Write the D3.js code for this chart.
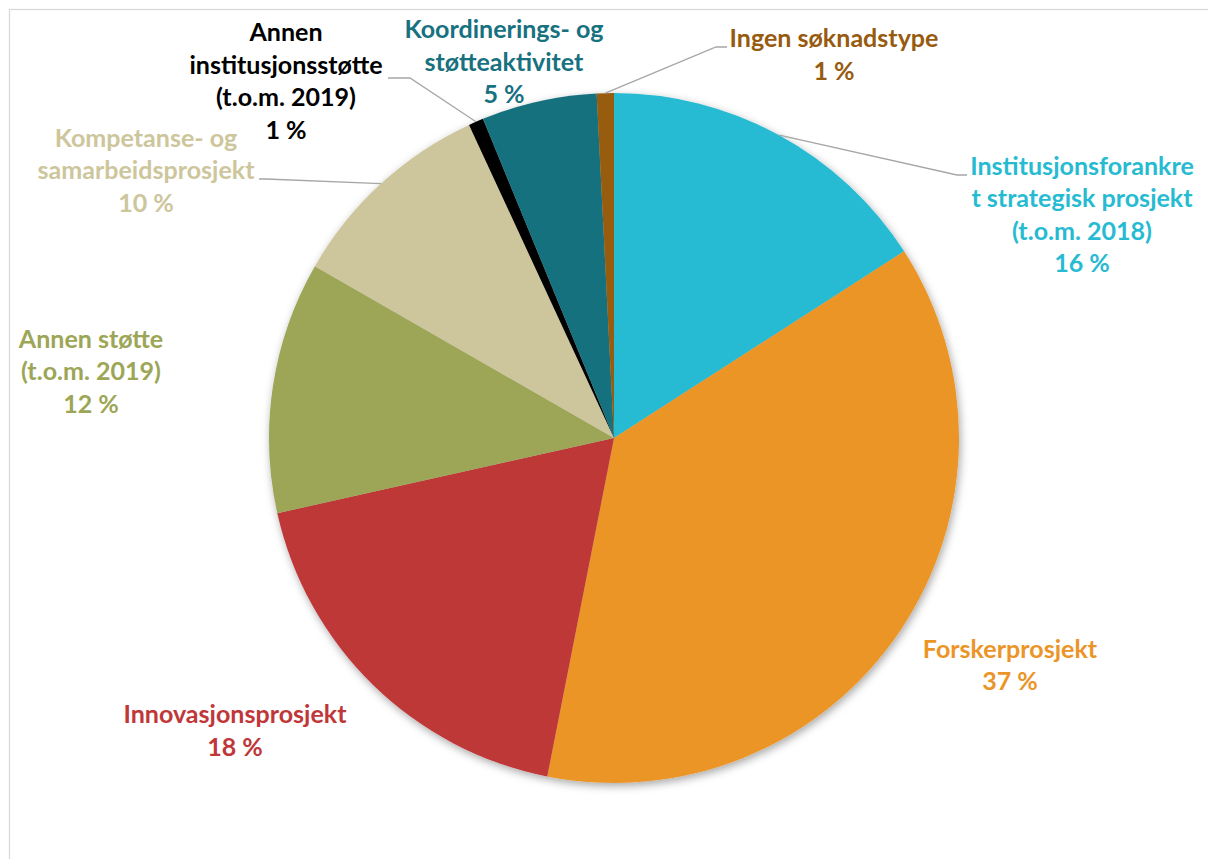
<!DOCTYPE html>
<html><head><meta charset="utf-8">
<script src="https://cdn.jsdelivr.net/npm/d3@7"></script>
<style>html,body{margin:0;padding:0;background:#fff;}svg{display:block;}</style>
</head><body>
<script>
// ---- data ----
const categories = [
  "Institusjonsforankret strategisk prosjekt (t.o.m. 2018)",
  "Forskerprosjekt",
  "Innovasjonsprosjekt",
  "Annen støtte (t.o.m. 2019)",
  "Kompetanse- og samarbeidsprosjekt",
  "Annen institusjonsstøtte (t.o.m. 2019)",
  "Koordinerings- og støtteaktivitet",
  "Ingen søknadstype"
];
const values = [15.9, 37.2, 18.4, 11.8, 9.8, 0.7, 5.4, 0.8];
const labelLines = [
  ["Institusjonsforankre", "t strategisk prosjekt", "(t.o.m. 2018)"],
  ["Forskerprosjekt"],
  ["Innovasjonsprosjekt"],
  ["Annen støtte", "(t.o.m. 2019)"],
  ["Kompetanse- og", "samarbeidsprosjekt"],
  ["Annen", "institusjonsstøtte", "(t.o.m. 2019)"],
  ["Koordinerings- og", "støtteaktivitet"],
  ["Ingen søknadstype"]
];
const colors = ["#27BBD2", "#EB9528", "#BF3739", "#9CA656", "#CDC69C", "#000000", "#18717F", "#975B0F"];
const textColors = ["#27BBD2", "#EB9528", "#BF3739", "#9CA656", "#CDC69C", "#000000", "#18717F", "#975B0F"];

// ---- layout ----
const W = 1208, H = 859;
const cx = 614, cy = 438, R = 345;
const lineH = 32.5;
// label anchor: center x, first baseline, leader path points (label side), ordered from label outward
const labelLayout = [
  {x: 1082, y: 174.5, leader: [[967, 175], [957, 175]]},
  {x: 1010, y: 657.5, leader: null},
  {x: 235,  y: 723,   leader: null},
  {x: 91,   y: 347.5, leader: null},
  {x: 146,  y: 146.5, leader: [[259, 179], [266, 179]]},
  {x: 286,  y: 41,    leader: [[388, 78], [410, 78]]},
  {x: 504,  y: 38,    leader: null},
  {x: 834,  y: 47,    leader: [[727, 47], [716, 47]]}
];

const svg = d3.select("body").append("svg").attr("width", W).attr("height", H);

const defs = svg.append("defs");
const f = defs.append("filter").attr("id", "shadow")
  .attr("x", "-10%").attr("y", "-10%").attr("width", "120%").attr("height", "120%");
f.append("feDropShadow").attr("dx", 1.5).attr("dy", 3).attr("stdDeviation", 4)
  .attr("flood-color", "#000").attr("flood-opacity", 0.35);

// outer frame
svg.append("rect").attr("x", 9.5).attr("y", 9.5).attr("width", W + 50).attr("height", H + 50)
  .attr("fill", "none").attr("stroke", "#d9d9d9").attr("stroke-width", 1.3);

const pie = d3.pie().sort(null).value(d => d).startAngle(0).endAngle(2 * Math.PI);
const arcs = pie(values);
const arc = d3.arc().innerRadius(0).outerRadius(R);

const g = svg.append("g").attr("transform", `translate(${cx},${cy})`);
g.append("g").attr("filter", "url(#shadow)")
  .selectAll("path").data(arcs).join("path")
  .attr("d", arc).attr("fill", (d, i) => colors[i]);

// leaders
const pctFmt = v => Math.round(v) + " %";
arcs.forEach((d, i) => {
  const L = labelLayout[i];
  if (!L.leader) return;
  const a = (d.startAngle + d.endAngle) / 2;
  const px = cx + R * Math.sin(a), py = cy - R * Math.cos(a);
  const pts = L.leader.concat([[px, py]]);
  svg.append("path").attr("d", d3.line()(pts))
    .attr("fill", "none").attr("stroke", "#a6a6a6").attr("stroke-width", 1.3);
});

// labels
const fontFamily = "Lato, 'Open Sans', sans-serif";
let fontSize = 20;
// fit font size so that a reference line matches the reference width
const probe = svg.append("text").attr("font-family", fontFamily).attr("font-weight", 700)
  .attr("font-size", 20).text("samarbeidsprosjekt");
const wProbe = probe.node().getComputedTextLength();
probe.remove();
if (wProbe > 0) fontSize = 20 * 217 / wProbe;

arcs.forEach((d, i) => {
  const L = labelLayout[i];
  const lines = labelLines[i].concat([pctFmt(values[i])]);
  const t = svg.append("text").attr("text-anchor", "middle")
    .attr("font-family", fontFamily).attr("font-weight", 700)
    .attr("font-size", fontSize).attr("fill", textColors[i]);
  lines.forEach((s, k) => {
    t.append("tspan").attr("x", L.x).attr("y", L.y + k * lineH).text(s);
  });
});
</script>
</body></html>
